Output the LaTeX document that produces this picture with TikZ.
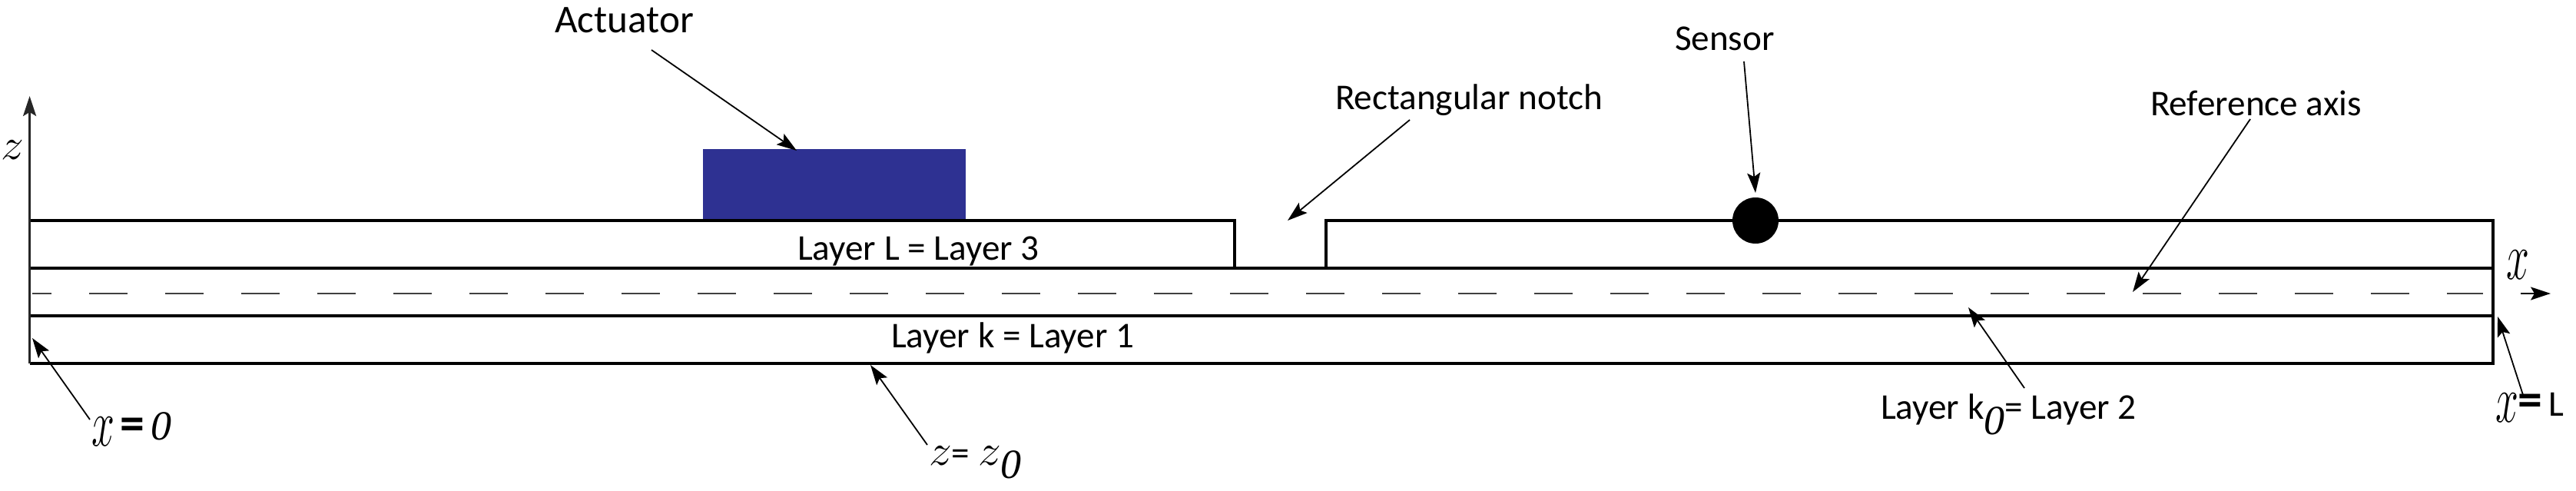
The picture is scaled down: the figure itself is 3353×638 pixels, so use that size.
\documentclass[tikz,border=0pt]{standalone}
\usepackage{fontspec}
\setmainfont{Carlito}
\newfontfamily\serifit{Liberation Serif}[ItalicFont=* Italic]
\usetikzlibrary{arrows.meta}
\definecolor{actblue}{HTML}{2E3192}
\tikzset{
  px/.style={x=0.5pt,y=-0.5pt},
  lbl/.style={anchor=base west,inner sep=0pt,outer sep=0pt,font=\fontsize{23.6}{28}\selectfont},
  biglbl/.style={lbl,font=\fontsize{25.6}{30}\selectfont},
  beamline/.style={line width=1.7pt,black,line cap=butt,line join=miter},
  topline/.style={line width=2pt,black,line join=miter},
  axisline/.style={line width=1.3pt,black!85,-{Stealth[length=13pt,width=8.5pt,inset=2.5pt]}},
  pointer/.style={line width=0.9pt,black,-{Stealth[length=13pt,width=8.5pt,inset=2.5pt]}},
  refdash/.style={line width=1.1pt,black!75,dash pattern=on 25pt off 24.5pt,dash phase=12.5pt},
}
\newcommand{\tallx}{\raisebox{-4pt}{\scalebox{1.08}[1.75]{$x$}}}
\newcommand{\tallz}{\scalebox{1.2}[1.15]{$z$}}
\newcommand{\itzero}{{\serifit\itshape\fontsize{27}{30}\selectfont 0}}
\newcommand{\bigeq}{\scalebox{1.35}{\textbf{=}}}
\begin{document}
\begin{tikzpicture}[px]
\useasboundingbox (0,0) rectangle (3353,638);
\node[fill=actblue,inner sep=0pt,minimum width=171pt,minimum height=47.5pt,anchor=north west] (actbox) at (915,194) {};
\coordinate (tl) at (38.6,287);
\coordinate (n1t) at (1607,287);
\coordinate (n1b) at (1607,349);
\coordinate (n2b) at (1726,349);
\coordinate (n2t) at (1726,287);
\coordinate (tr) at (3245,287);
\coordinate (br) at (3245,473);
\coordinate (bl) at (38.6,473);
\coordinate (ul) at (38.6,349);
\coordinate (ur) at (3245,349);
\coordinate (ml) at (38.6,411);
\coordinate (mr) at (3245,411);
\coordinate (dl) at (42,382);
\coordinate (dr) at (3232,382);
\coordinate (ztip) at (38.6,125);
\coordinate (xs) at (3281,382);
\coordinate (xe) at (3320,382);
\draw[topline] (tl) -- (n1t) -- (n1b);
\draw[topline] (n2b) -- (n2t) -- (tr) -- (br) -- (bl);
\draw[beamline] (ul) -- (ur);
\draw[beamline] (ml) -- (mr);
\draw[refdash] (dl) -- (dr);
\draw[axisline] (bl) -- (ztip);
\draw[pointer] (xs) -- (xe);
\node[circle,fill=black,inner sep=0pt,minimum size=30pt] (sensorball) at (2285,287) {};
\node[biglbl] (actuator) at (722,42) {Actuator};
\node[lbl] (notch) at (1738,142) {Rectangular notch};
\node[lbl] (sensor) at (2180,65) {Sensor};
\node[lbl] (refaxis) at (2799,150) {Reference axis};
\node[lbl] (layer3) at (1038,338) {Layer L = Layer 3};
\node[lbl] (layer1) at (1160,452) {Layer k = Layer 1};
\node[lbl] (layer2) at (2448,545) {Layer k\raisebox{-10pt}{\itzero}= Layer 2};
\node[lbl] (xL) at (3248,541) {\tallx{}\bigeq\,L};
\node[lbl] (x0) at (119,572) {\tallx{}\,\bigeq\,\itzero};
\node[lbl] (zz0) at (1209,605) {\tallz{}= \tallz{}\raisebox{-8.5pt}{\itzero}};
\node[lbl] (zlab) at (2,207) {\tallz};
\node[lbl] (xlab) at (3262,355) {\tallx};
\coordinate (aS) at (848,65);   \coordinate (aE) at (1037,196);
\coordinate (nS) at (1835,156); \coordinate (nE) at (1676,287);
\coordinate (sS) at (2270,80);  \coordinate (sE) at (2285,251);
\coordinate (rS) at (2929,155); \coordinate (rE) at (2776,380);
\coordinate (kS) at (2635,505); \coordinate (kE) at (2562,400);
\coordinate (LS) at (3285,517); \coordinate (LE) at (3251,412);
\coordinate (oS) at (117,546);  \coordinate (oE) at (42,440);
\coordinate (zS) at (1207,579); \coordinate (zE) at (1133,475);
\draw[pointer] (aS) -- (aE);
\draw[pointer] (nS) -- (nE);
\draw[pointer] (sS) -- (sE);
\draw[pointer] (rS) -- (rE);
\draw[pointer] (kS) -- (kE);
\draw[pointer] (LS) -- (LE);
\draw[pointer] (oS) -- (oE);
\draw[pointer] (zS) -- (zE);
\end{tikzpicture}
\end{document}
